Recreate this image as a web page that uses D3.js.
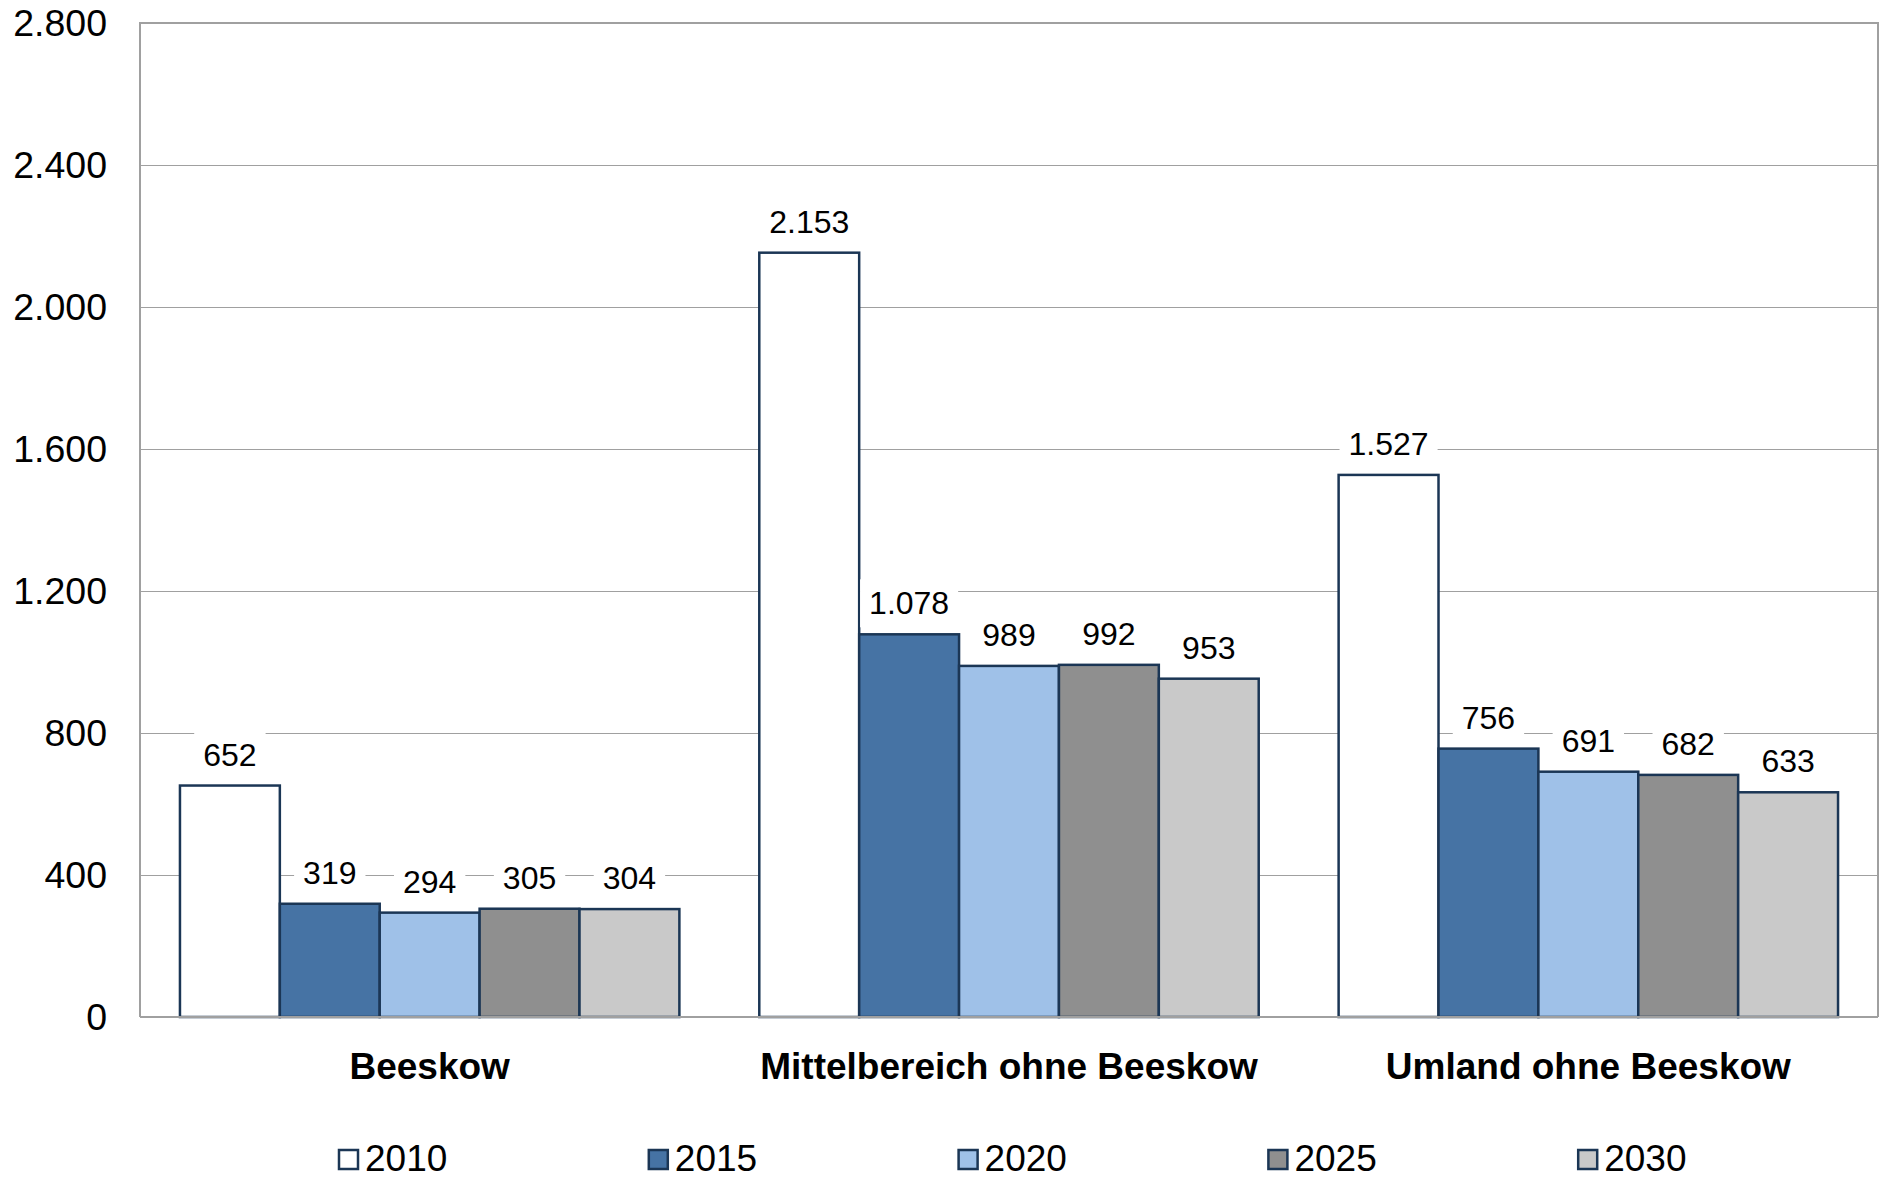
<!DOCTYPE html>
<meta charset="utf-8">
<style>
  html, body { margin: 0; padding: 0; background: #fff; overflow: hidden; }
  text { font-family: "Liberation Sans", Arial, sans-serif; fill: #000; }
  .grid line { stroke: #a0a0a0; stroke-width: 1.5px; shape-rendering: crispEdges; }
  .grid path { display: none; }
  .frame { fill: none; stroke: #a0a0a0; stroke-width: 2px; shape-rendering: crispEdges; }
  .bar { stroke: #1b3655; stroke-width: 2.5px; }
</style>
<body>
<svg></svg>
<script src="https://d3js.org/d3.v7.min.js"></script>
<script>
var categories = ["Beeskow", "Mittelbereich ohne Beeskow", "Umland ohne Beeskow"];
var years = ["2010", "2015", "2020", "2025", "2030"];
var v2010 = [652, 2153, 1527];
var v2015 = [319, 1078, 756];
var v2020 = [294, 989, 691];
var v2025 = [305, 992, 682];
var v2030 = [304, 953, 633];
var yTicks = [0, 400, 800, 1200, 1600, 2000, 2400, 2800];
var colors = ["#ffffff", "#4673a4", "#9fc1e8", "#8f8f8f", "#c9c9c9"];

var series = [v2010, v2015, v2020, v2025, v2030];

var W = 1880, H = 1177;
var margin = {top: 23, right: 2, bottom: 160, left: 140};
var width = W - margin.left - margin.right,
    height = H - margin.top - margin.bottom;

var de = d3.formatLocale({decimal: ",", thousands: ".", grouping: [3], currency: ["", " €"]});
var fmt = de.format(",d");

var svg = d3.select("svg").attr("width", W).attr("height", H)
  .append("g")
  .attr("transform", "translate(" + margin.left + "," + margin.top + ")");

var x0 = d3.scaleBand().domain(categories).range([0, width]).padding(0);
var x1 = d3.scaleBand().domain(years).range([0, x0.bandwidth()]).paddingInner(0).paddingOuter(0.4);
var y = d3.scaleLinear().domain([0, 2800]).range([height, 0]);

// grid
svg.append("g")
  .attr("class", "grid")
  .call(d3.axisLeft(y).tickValues(yTicks).tickSize(-width).tickFormat(""));

// frame
svg.append("path")
  .attr("class", "frame")
  .attr("d", "M0," + height + "V0H" + width + "V" + height);

// y labels
svg.append("g")
  .selectAll("text")
  .data(yTicks)
  .enter().append("text")
    .attr("x", -33)
    .attr("y", function(d) { return y(d); })
    .attr("dy", "0.35em")
    .attr("text-anchor", "end")
    .style("font-size", "37.5px")
    .text(function(d) { return fmt(d); });

var rows = [];
categories.forEach(function(c, i) {
  years.forEach(function(yr, j) {
    rows.push({cat: c, year: yr, value: series[j][i], color: colors[j]});
  });
});

svg.append("g")
  .selectAll("rect")
  .data(rows)
  .enter().append("rect")
    .attr("class", "bar")
    .attr("x", function(d) { return x0(d.cat) + x1(d.year); })
    .attr("y", function(d) { return y(d.value); })
    .attr("width", x1.bandwidth())
    .attr("height", function(d) { return height - y(d.value); })
    .style("fill", function(d) { return d.color; });

// bottom axis line
svg.append("line")
  .attr("class", "frame")
  .attr("x1", 0).attr("x2", width)
  .attr("y1", height).attr("y2", height);

// data labels with white boxes
var lab = svg.append("g").selectAll("g")
  .data(rows)
  .enter().append("g")
  .attr("transform", function(d) {
    return "translate(" + (x0(d.cat) + x1(d.year) + x1.bandwidth() / 2) + "," + (y(d.value) - 20) + ")";
  });

lab.append("text")
  .attr("text-anchor", "middle")
  .style("font-size", "32px")
  .text(function(d) { return fmt(d.value); });

lab.each(function() {
  var g = d3.select(this);
  var bb = g.select("text").node().getBBox();
  g.insert("rect", "text")
    .attr("x", bb.x - 9)
    .attr("y", bb.y - 6)
    .attr("width", bb.width + 18)
    .attr("height", bb.height + 12)
    .style("fill", "#fff");
});

// category labels
svg.append("g")
  .selectAll("text")
  .data(categories)
  .enter().append("text")
    .attr("x", function(d) { return x0(d) + x0.bandwidth() / 2; })
    .attr("y", height + 62)
    .attr("text-anchor", "middle")
    .style("font-size", "37px")
    .style("font-weight", "bold")
    .text(function(d) { return d; });

// legend
var leg = d3.select("svg").append("g")
  .selectAll("g")
  .data(years)
  .enter().append("g")
  .attr("transform", function(d, i) { return "translate(" + (339 + i * 309.8) + ",1150)"; });

leg.append("rect")
  .attr("width", 19).attr("height", 19)
  .style("fill", function(d, i) { return colors[i]; })
  .style("stroke", "#1b3655")
  .style("stroke-width", 2.5);

leg.append("text")
  .attr("x", 26)
  .attr("y", 21)
  .style("font-size", "37px")
  .text(function(d) { return d; });
</script>
</body>
